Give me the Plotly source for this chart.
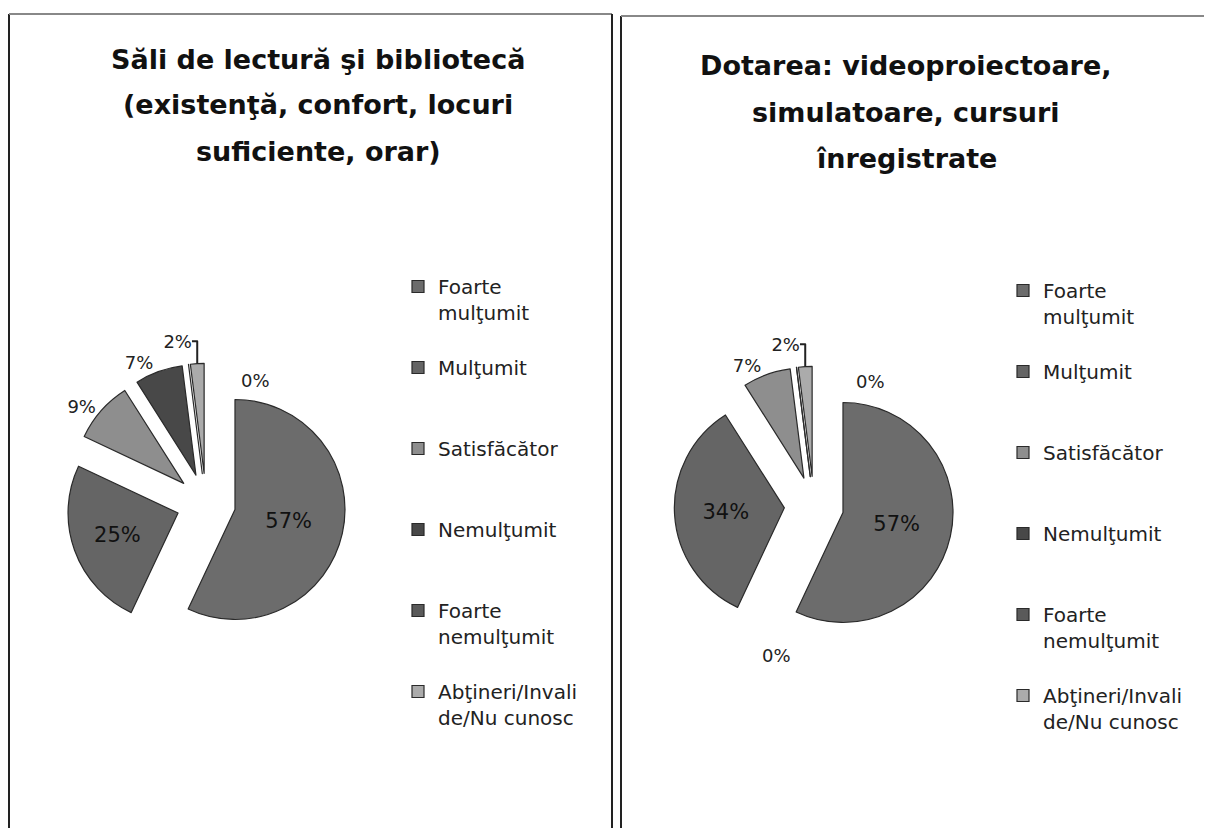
import plotly.graph_objects as go

# legend categories, wrapped the way the legend shows them
# (blank lines give every entry the same height, as in the original legend)
legend_labels = ["Foarte<br>mulţumit<br> ", "Mulţumit<br> <br> ", "Satisfăcător<br> <br> ",
                 "Nemulţumit<br> <br> ", "Foarte<br>nemulţumit<br> ", "Abţineri/Invali<br>de/Nu cunosc<br> "]

# values in percent
sali_values = [57, 25, 9, 7, 0, 2]
dotare_values = [57, 34, 7, 0, 0, 2]

title_left = ["Săli de lectură şi bibliotecă", "(existenţă, confort, locuri", "suficiente, orar)"]
title_right = ["Dotarea: videoproiectoare,", "simulatoare, cursuri", "înregistrate"]

colors = ["#6c6c6c", "#656565", "#8e8e8e", "#484848", "#5a5a5a", "#ababab"]
FONT = "DejaVu Sans, sans-serif"
W, H = 1212, 828
OFF = 8  # the page body adds an 8px margin, positions below are page pixels


def px(x):
    return (x - OFF) / W


def py(y):
    return 1 - (y - OFF) / H


def text_pos(v):
    if v == 0:
        return "none"
    return "inside" if v > 15 else "outside"


def pie(values, labels, cx, cy, r, legend):
    pull = 0.27
    half = r * (1 + pull)
    return go.Pie(
        labels=labels, values=values, sort=False,
        direction="clockwise", rotation=0,
        pull=[pull] * len(values),
        marker=dict(colors=colors, line=dict(color="#2a2a2a", width=1.2)),
        texttemplate="%{value}%",
        textposition=[text_pos(v) for v in values],
        insidetextorientation="horizontal",
        insidetextfont=dict(family=FONT, size=21, color="#111111"),
        outsidetextfont=dict(family=FONT, size=18, color="#222222"),
        domain=dict(x=[px(cx - half), px(cx + half)], y=[py(cy + half), py(cy - half)]),
        legend=legend, showlegend=True, hoverinfo="skip",
    )


fig = go.Figure()
fig.add_trace(pie(sali_values, legend_labels, 206, 503, 110, "legend"))
# the second legend needs its own label keys, a zero-width space keeps them distinct
fig.add_trace(pie(dotare_values, [l + "\u200b" for l in legend_labels], 814, 506, 110, "legend2"))

legend_style = dict(font=dict(family=FONT, size=20, color="#222222"), valign="top",
                    bgcolor="rgba(0,0,0,0)", xanchor="left", yanchor="top",
                    itemwidth=30, traceorder="normal")
fig.update_layout(
    legend=dict(x=px(398), y=py(267), **legend_style),
    legend2=dict(x=px(1003), y=py(271), **legend_style),
)

annotations = []
for lines, cx, y0 in [(title_left, 318, 59), (title_right, 906, 66)]:
    for i, t in enumerate(lines):
        annotations.append(dict(text="<b>%s</b>" % t, x=px(cx), y=py(y0 + 46 * i),
                                xref="paper", yref="paper", showarrow=False,
                                xanchor="center", yanchor="middle",
                                font=dict(family=FONT, size=27, color="#111111")))

# labels of the empty slices, placed where the original put them
zero_label_pos = {0: [(255, 380)], 1: [(870, 381), (776, 655)]}
for k, values in enumerate([sali_values, dotare_values]):
    zeros = [v for v in values if v == 0]
    for v, (x, y) in zip(zeros, zero_label_pos[k]):
        annotations.append(dict(text="%d%%" % v, x=px(x), y=py(y), xref="paper", yref="paper",
                                showarrow=False, xanchor="center", yanchor="middle",
                                font=dict(family=FONT, size=18, color="#222222")))

# panel frames
frames = [
    (9, 9, 14, H + OFF, "#222"),
    (9, 612, 14, 14, "#888"),
    (612, 612, 14, H + OFF, "#222"),
    (621, 621, 16, H + OFF, "#222"),
    (621, W + OFF, 16, 16, "#888"),
]
shapes = [dict(type="line", xref="paper", yref="paper", x0=px(a), x1=px(b), y0=py(c), y1=py(d),
               line=dict(color=col, width=2)) for a, b, c, d, col in frames]

fig.update_layout(width=W, height=H, margin=dict(l=0, r=0, t=0, b=0, autoexpand=False),
                  paper_bgcolor="white", plot_bgcolor="white",
                  annotations=annotations, shapes=shapes)
fig.write_html("out.html")
